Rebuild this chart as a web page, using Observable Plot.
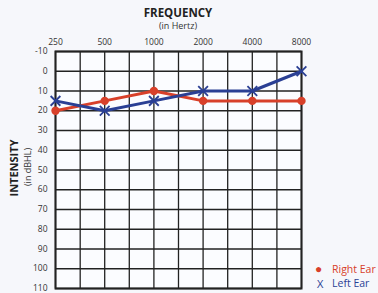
<!DOCTYPE html>
<html><head><meta charset="utf-8">
<script src="https://cdn.jsdelivr.net/npm/d3@7"></script>
<script src="https://cdn.jsdelivr.net/npm/@observablehq/plot@0.6"></script>
<style>
body{margin:0;background:#f6f7fb;font-family:"Open Sans",sans-serif;}
#wrap{position:relative;width:378px;height:293px;overflow:hidden;background:#f6f7fb}
#wrap svg{position:absolute;left:0;top:0}
.t{position:absolute;white-space:nowrap;line-height:1}
</style></head><body><div id="wrap"></div>
<script>
const freqs = [250, 500, 1000, 2000, 4000, 8000];
const rightEar = [20, 15, 10, 15, 15, 15];
const leftEar = [15, 20, 15, 10, 10, 0];
const gridFreqs = [250, 354, 500, 707, 1000, 1414, 2000, 2828, 4000, 5657, 8000];
const dbTicks = [-10, 0, 10, 20, 30, 40, 50, 60, 70, 80, 90, 100, 110];

const RED = "#d8402a", BLUE = "#2a3f94";
const right = freqs.map((f, i) => ({f, db: rightEar[i]}));
const left = freqs.map((f, i) => ({f, db: leftEar[i]}));

const chart = Plot.plot({
  width: 378, height: 293,
  marginLeft: 55, marginRight: 77, marginTop: 51, marginBottom: 5,
  style: {background: "transparent", fontFamily: "'Open Sans', sans-serif", fontSize: "8.5px", color: "#333", overflow: "visible"},
  x: {type: "log", domain: [250, 8000], label: null, axis: null},
  y: {domain: [-10, 110], reverse: true, label: null},
  marks: [
    Plot.frame({fill: "#fbfcff", stroke: null}),
    Plot.ruleX(gridFreqs, {stroke: "#222", strokeWidth: 1.3}),
    Plot.ruleY(dbTicks, {stroke: "#222", strokeWidth: 1.6}),
    Plot.frame({stroke: "#222", strokeWidth: 2}),
    Plot.text(freqs, {x: d => d, text: d => String(d), frameAnchor: "top", dy: -13, fill: "#333", fontSize: 8.5}),
    Plot.axisY(dbTicks, {anchor: "left", tickSize: 0, tickPadding: 8, tickFormat: d => String(d), fill: "#333"}),
    Plot.line(right, {x: "f", y: "db", stroke: RED, strokeWidth: 3}),
    Plot.dot(right, {x: "f", y: "db", fill: RED, r: 4.2}),
    Plot.line(left, {x: "f", y: "db", stroke: BLUE, strokeWidth: 3}),
    Plot.dot(left, {x: "f", y: "db", symbol: "times", stroke: BLUE, strokeWidth: 1.8, r: 4.5})
  ]
});
const wrap = document.getElementById("wrap");
wrap.appendChild(chart);

function addText(txt, css) {
  const d = document.createElement("div");
  d.className = "t";
  d.textContent = txt;
  Object.assign(d.style, css);
  wrap.appendChild(d);
  return d;
}
addText("FREQUENCY", {left: "178px", top: "7px", transform: "translateX(-50%)", fontWeight: "bold", fontSize: "11.5px", color: "#222"});
addText("(in Hertz)", {left: "178px", top: "21px", transform: "translateX(-50%)", fontSize: "9px", color: "#333"});
addText("INTENSITY", {left: "13px", top: "168px", transform: "translate(-50%,-50%) rotate(-90deg)", fontWeight: "bold", fontSize: "11px", color: "#222"});
addText("(in dBHL)", {left: "27px", top: "167px", transform: "translate(-50%,-50%) rotate(-90deg)", fontSize: "9px", color: "#333"});
addText("●", {left: "315px", top: "263px", fontSize: "12px", color: RED});
addText("Right Ear", {left: "332px", top: "264px", fontSize: "10.5px", color: RED});
addText("X", {left: "317px", top: "278px", fontSize: "11px", color: BLUE});
addText("Left Ear", {left: "332px", top: "278px", fontSize: "10.5px", color: BLUE});
</script></body></html>
